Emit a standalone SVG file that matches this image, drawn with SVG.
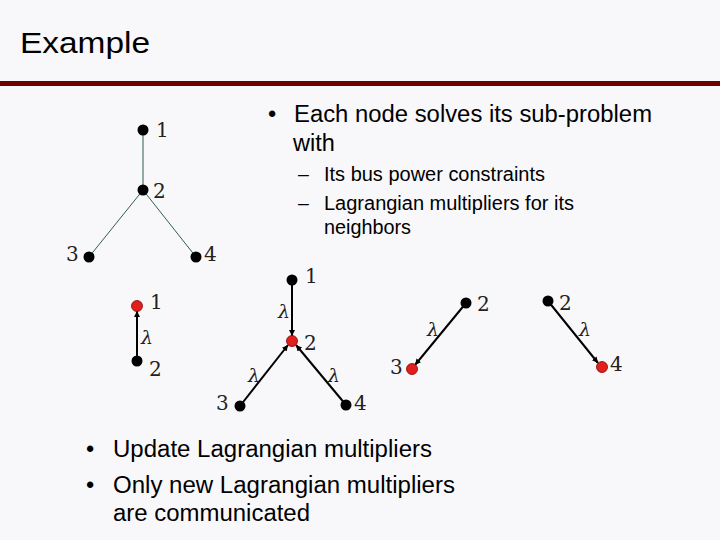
<svg xmlns="http://www.w3.org/2000/svg" width="720" height="540" viewBox="0 0 720 540">
<defs>
<style>
.t{font-family:"Liberation Sans",Arial,sans-serif;fill:#000}
.n{font-family:"DejaVu Serif","Liberation Serif",serif;font-size:20px;fill:#222}
.l{font-family:"DejaVu Serif","Liberation Serif",serif;font-size:19px;font-style:italic;fill:#222}
.e{stroke:#000;stroke-width:2}
.et{stroke:#2f5b57;stroke-width:1}
.b{fill:#000}
.r{fill:#e0201c;stroke:#8a0000;stroke-width:0.8}
</style>
<marker id="a" viewBox="0 0 10 10" refX="10" refY="5" markerWidth="3" markerHeight="3" orient="auto"><path d="M0,0L10,5L0,10z" fill="#000"/></marker>
</defs>
<rect width="720" height="540" fill="#f8f8fa"/>
<text class="t" x="20" y="53" font-size="30" textLength="130" lengthAdjust="spacingAndGlyphs">Example</text>
<rect x="0" y="81" width="720" height="5" fill="#6e0000"/>
<g class="t" font-size="23.5">
<text x="268" y="122">•</text>
<text x="294" y="122" textLength="358" lengthAdjust="spacingAndGlyphs">Each node solves its sub-problem</text>
<text x="293" y="151">with</text>
<text x="86" y="457">•</text>
<text x="113" y="457" textLength="319" lengthAdjust="spacingAndGlyphs">Update Lagrangian multipliers</text>
<text x="86" y="493">•</text>
<text x="113" y="493" textLength="342" lengthAdjust="spacingAndGlyphs">Only new Lagrangian multipliers</text>
<text x="113" y="521" textLength="197" lengthAdjust="spacingAndGlyphs">are communicated</text>
</g>
<g class="t" font-size="19.5">
<text x="298" y="181">–</text>
<text x="324" y="181" textLength="221" lengthAdjust="spacingAndGlyphs">Its bus power constraints</text>
<text x="298" y="210">–</text>
<text x="324" y="210" textLength="250" lengthAdjust="spacingAndGlyphs">Lagrangian multipliers for its</text>
<text x="324" y="234" textLength="87" lengthAdjust="spacingAndGlyphs">neighbors</text>
</g>
<g id="connectors">
<line class="et" x1="143" y1="130" x2="143" y2="190"/>
<line class="et" x1="143" y1="190" x2="89" y2="257"/>
<line class="et" x1="143" y1="190" x2="196" y2="257"/>
<line class="e" x1="137" y1="361" x2="137" y2="311" marker-end="url(#a)"/>
<line class="e" x1="292" y1="280" x2="292" y2="336" marker-end="url(#a)"/>
<line class="e" x1="240" y1="406" x2="288" y2="345" marker-end="url(#a)"/>
<line class="e" x1="346" y1="405" x2="296" y2="345" marker-end="url(#a)"/>
<line class="e" x1="466" y1="303" x2="415" y2="365" marker-end="url(#a)"/>
<line class="e" x1="548" y1="301" x2="598" y2="363" marker-end="url(#a)"/>
</g>
<g id="top">
<circle class="b" cx="143" cy="130" r="5.5"/><circle class="b" cx="143" cy="190" r="5.5"/>
<circle class="b" cx="89" cy="257" r="5.5"/><circle class="b" cx="196" cy="257" r="5.5"/>
<text class="n" x="156" y="137">1</text><text class="n" x="153" y="198">2</text>
<text class="n" x="66" y="261">3</text><text class="n" x="204" y="261">4</text>
</g>
<g id="gA">
<circle class="r" cx="137" cy="306" r="5.5"/><circle class="b" cx="137" cy="361" r="5.5"/>
<text class="n" x="150" y="309">1</text><text class="l" x="141" y="344">λ</text><text class="n" x="149" y="376">2</text>
</g>
<g id="gB">
<circle class="b" cx="292" cy="280" r="5.5"/><circle class="r" cx="292" cy="341" r="5.5"/>
<circle class="b" cx="240" cy="406" r="5.5"/><circle class="b" cx="346" cy="405" r="5.5"/>
<text class="n" x="305" y="283">1</text><text class="l" x="278" y="318">λ</text><text class="n" x="304" y="350">2</text>
<text class="l" x="248" y="382">λ</text><text class="l" x="328" y="382">λ</text>
<text class="n" x="216" y="410">3</text><text class="n" x="354" y="410">4</text>
</g>
<g id="gC">
<circle class="b" cx="466" cy="303" r="5.5"/><circle class="r" cx="412" cy="369" r="5.5"/>
<text class="n" x="477" y="311">2</text><text class="l" x="427" y="336">λ</text><text class="n" x="390" y="374">3</text>
</g>
<g id="gD">
<circle class="b" cx="548" cy="301" r="5.5"/><circle class="r" cx="602" cy="367" r="5.5"/>
<text class="n" x="559" y="310">2</text><text class="l" x="579" y="336">λ</text><text class="n" x="610" y="371">4</text>
</g>
</svg>
